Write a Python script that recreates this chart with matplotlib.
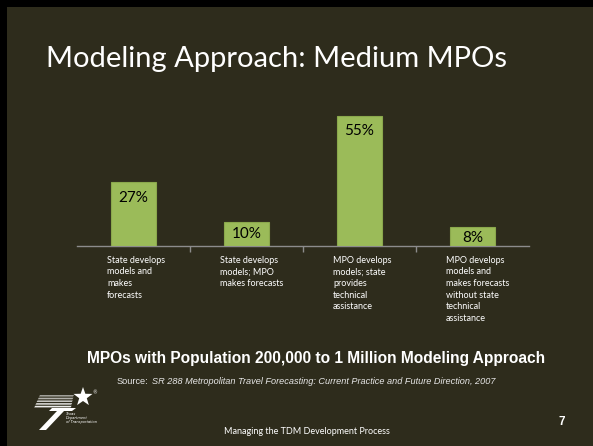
import matplotlib.pyplot as plt
from matplotlib.patches import Rectangle, Polygon
import numpy as np

# ---------- data ---------- #
categories = [
    "State develops\nmodels and\nmakes\nforecasts",
    "State develops\nmodels; MPO\nmakes forecasts",
    "MPO develops\nmodels; state\nprovides\ntechnical\nassistance",
    "MPO develops\nmodels and\nmakes forecasts\nwithout state\ntechnical\nassistance",
]
shares = [27, 10, 55, 8]
value_labels = ["27%", "10%", "55%", "8%"]

title = "Modeling Approach: Medium MPOs"
subtitle = "MPOs with Population 200,000 to 1 Million Modeling Approach"
source_plain = "Source:"
source_italic = "SR 288 Metropolitan Travel Forecasting: Current Practice and Future Direction, 2007"
footer = "Managing the TDM Development Process"
page_no = "7"

# ---------- colours ---------- #
bg = "#2e2c1c"
bar_color = "#9bbb59"
bar_edge = "#8aa84c"
W, H = 593, 446

fig = plt.figure(figsize=(W / 100, H / 100), dpi=100)
fig.patch.set_facecolor(bg)

# pixel-space overlay for slide decoration
deco = fig.add_axes([0, 0, 1, 1])
deco.set_xlim(0, W)
deco.set_ylim(H, 0)
deco.axis("off")
deco.add_patch(Rectangle((0, 0), W, 7, color="black", lw=0))
deco.add_patch(Rectangle((0, 0), 7, H, color="black", lw=0))

deco.text(46, 59, title, fontsize=21, family="Lato", color="white", va="center", ha="left")
deco.text(316, 358, subtitle, fontsize=11.2, family="Liberation Sans", weight="bold",
          color="white", va="center", ha="center")
src = deco.text(117, 382, source_plain, fontsize=6.6, family="Liberation Sans", color="#e8e8e8",
                va="center", ha="left")
deco.annotate(source_italic, xy=(1, 0.5), xycoords=src, xytext=(2.5, 0),
              textcoords="offset points", fontsize=6.6, family="Liberation Sans",
              style="italic", color="#e8e8e8", va="center", ha="left")
deco.text(307, 431, footer, fontsize=6.5, family="Lato", color="white", va="center", ha="center")
deco.text(562, 422, page_no, fontsize=8.5, family="Liberation Sans", weight="bold",
          color="white", va="center", ha="center")

# simplified TxDOT logo
for k in range(5):
    y0 = 395 + k * 2.7
    deco.add_patch(Polygon([(40 - k * 1.2, y0), (74 - k * 0.6, y0), (73 - k * 0.6, y0 + 1.6),
                            (39 - k * 1.2, y0 + 1.6)], closed=True, color="white",
                           alpha=0.55 + 0.09 * k, lw=0))
deco.add_patch(Polygon([(52, 408), (76, 408), (72, 411), (64, 411), (46, 430), (39, 430),
                        (57, 411), (49, 411)], closed=True, color="white", lw=0))
ang = np.linspace(np.pi / 2, np.pi / 2 + 2 * np.pi, 11)[:-1]
rad = np.where(np.arange(10) % 2 == 0, 10, 4)
deco.add_patch(Polygon(np.c_[83 + rad * np.cos(ang), 397 - rad * np.sin(ang)], closed=True,
                       color="white", lw=0))
deco.text(95, 393, "\u00ae", fontsize=3.5, color="white", ha="center", va="center")
deco.text(66, 418, "Texas\nDepartment\nof Transportation", fontsize=2.6, style="italic",
          color="white", ha="left", va="center", linespacing=1.0)

# ---------- bar chart ---------- #
ax = fig.add_axes([77 / W, (H - 246) / H, 452 / W, 141.6 / H])
ax.set_facecolor("none")
x = np.arange(len(shares))
ax.bar(x, shares, width=0.4, color=bar_color, edgecolor=bar_edge, linewidth=0.8, zorder=3)
ax.set_xlim(-0.5, len(shares) - 0.5)
ax.set_ylim(0, 60)

for s in ["top", "right", "left"]:
    ax.spines[s].set_visible(False)
ax.spines["bottom"].set_color("#8c8c8c")
ax.spines["bottom"].set_linewidth(1)
ax.set_yticks([])
ax.set_xticks(x[:-1] + 0.5)
ax.set_xticklabels([])
ax.tick_params(axis="x", length=4, color="#8c8c8c", width=1, direction="out")

# value labels sit just inside the bar top (closer for the short bars)
for xi, v, lab in zip(x, shares, value_labels):
    off = -11 if v > 20 else -8
    ax.annotate(lab, xy=(xi, v), xytext=(0, off), textcoords="offset points",
                ha="center", va="center", fontsize=11, family="Lato", color="black")

for xi, cat in zip(x, categories):
    ax.annotate(cat, xy=(xi - 0.235, 0), xycoords=("data", "axes fraction"),
                xytext=(0, -7), textcoords="offset points", ha="left", va="top",
                fontsize=6.5, family="Lato", color="white", linespacing=1.38)

fig.savefig("out.png", dpi=100, facecolor=bg)
